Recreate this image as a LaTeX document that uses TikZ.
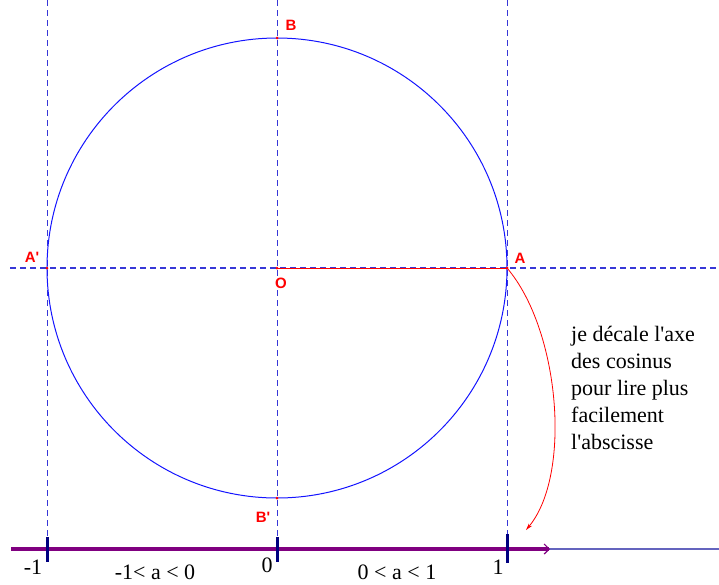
\documentclass[tikz,border=0pt]{standalone}
\usepackage{fontspec}
\setmainfont{Liberation Serif}
\setsansfont{Liberation Sans}
\usetikzlibrary{arrows.meta}
\definecolor{guideblue}{RGB}{55,55,215}
\definecolor{circblue}{RGB}{20,20,255}
\definecolor{axepurple}{RGB}{128,0,128}
\definecolor{axeslate}{RGB}{100,100,190}
\definecolor{tickblue}{RGB}{0,0,128}
\begin{document}
\begin{tikzpicture}[x=1pt, y=-1pt,
    guide/.style={guideblue, line width=1.1pt, dash pattern=on 6pt off 4pt},
    ptlabel/.style={red, inner sep=0pt, font=\sffamily\bfseries\fontsize{15}{15}\selectfont},
    numlabel/.style={inner sep=0pt, font=\fontsize{22}{22}\selectfont},
    tick/.style={tickblue, line width=3pt}]
    \useasboundingbox (0,0) rectangle (719,584);

    % points of the circle
    \coordinate (O) at (277,268);
    \coordinate (A) at (507,268);
    \coordinate (Ap) at (47,268);
    \coordinate (B) at (277,38);
    \coordinate (Bp) at (277,498);
    \coordinate (end) at (526,530);

    % guides
    \draw[guide] (10,268) -- (719,268);
    \draw[guide] (47.5,0) -- (47.5,537);
    \draw[guide] (277.5,0) -- (277.5,537);
    \draw[guide] (507.5,0) -- (507.5,534);

    \draw[circblue, line width=1pt] (O) circle (230pt);
    \draw[red, line width=1pt] (O) -- (A);
    \foreach \p in {O, A, Ap, B, Bp}
        \fill[red] (\p) circle (1.5pt);

    \node[ptlabel] (lB) at (291,25) {B};
    \node[ptlabel] (lAp) at (32,257) {A\textquotesingle};
    \node[ptlabel] (lO) at (281,283) {O};
    \node[ptlabel] (lA) at (520,258) {A};
    \node[ptlabel] (lBp) at (263,517) {B\textquotesingle};

    % cosine axis
    \draw[axeslate, line width=2pt] (549,549) -- (719,549);
    \draw[axepurple, line width=4pt] (11,549) -- (549,549);
    \draw[axepurple, line width=1.2pt, -{Straight Barb[length=5pt,width=10pt]}] (538,549) -- (550,549);
    \draw[tick] (47,537) -- (47,562);
    \draw[tick] (277,537) -- (277,562);
    \draw[tick] (507,534) -- (507,563);

    \node[numlabel] (m1) at (33,567) {-1};
    \node[numlabel] (zero) at (267,565) {0};
    \node[numlabel] (one) at (498,567) {1};
    \node[numlabel] (neg) at (155,572) {-1< a < 0};
    \node[numlabel] (pos) at (397,572) {0 < a < 1};

    \draw[red, line width=0.8pt, -{Stealth[length=7pt,width=4pt]}] (A) .. controls (560,330) and (572,475) .. (end);
    \node[numlabel, anchor=north west, align=left, font=\fontsize{22}{27}\selectfont] (note) at (571,326)
        {je décale l\textquotesingle axe\\des cosinus\\pour lire plus\\facilement\\l\textquotesingle abscisse};
\end{tikzpicture}
\end{document}
